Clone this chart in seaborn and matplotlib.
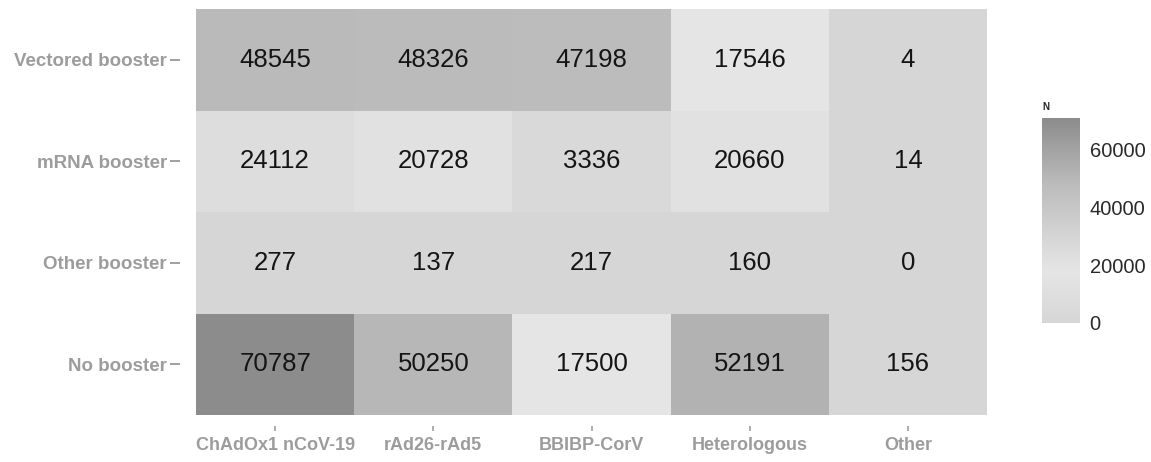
import numpy as np
import pandas as pd
import seaborn as sns
import matplotlib.pyplot as plt
from matplotlib.colors import LinearSegmentedColormap

vaccines = ["ChAdOx1 nCoV-19", "rAd26-rAd5", "BBIBP-CorV", "Heterologous", "Other"]
boosters = ["Vectored booster", "mRNA booster", "Other booster", "No booster"]

vectored = [48545, 48326, 47198, 17546, 4]
mrna = [24112, 20728, 3336, 20660, 14]
other_booster = [277, 137, 217, 160, 0]
no_booster = [70787, 50250, 17500, 52191, 156]

df = pd.DataFrame([vectored, mrna, other_booster, no_booster],
                  index=boosters, columns=vaccines)

sns.set_style("white")
plt.rcParams['font.family'] = ['Liberation Sans', 'DejaVu Sans']

# grey gradient, lightest around 17500 like the original
vmax = 70787
g = lambda v: (v / 255, v / 255, v / 255)
cmap = LinearSegmentedColormap.from_list("greys_mid", [
    (0.0, g(214)), (0.248, g(229)), (0.341, g(221)),
    (0.68, g(187)), (0.72, g(181)), (1.0, g(140))])

W, H = 1151, 462
fig = plt.figure(figsize=(W / 100, H / 100), dpi=100)
ax = fig.add_axes([196 / W, 1 - 415 / H, (987 - 196) / W, (415 - 9) / H])
cax = fig.add_axes([1042 / W, 1 - 323 / H, 38 / W, 205 / H])

sns.heatmap(df, ax=ax, cbar_ax=cax, cmap=cmap, vmin=0, vmax=vmax,
            annot=True, fmt="d", linewidths=0,
            annot_kws={"size": 18.5, "color": "#151515"},
            cbar_kws={"ticks": [0, 20000, 40000, 60000]})

tick_grey = "#a0a0a0"
ax.spines['left'].set_position(('outward', 11.5))
ax.spines['bottom'].set_position(('outward', 8))
ax.tick_params(axis='y', left=True, length=7, width=1.4, color=tick_grey,
               pad=2.5, labelsize=13.5, labelcolor="#9c9c9c", rotation=0)
ax.tick_params(axis='x', bottom=True, length=3.6, width=1.2, color=tick_grey,
               pad=4, labelsize=13, labelcolor="#9c9c9c", rotation=0)
for lab in ax.get_xticklabels() + ax.get_yticklabels():
    lab.set_fontweight('bold')

cb = ax.collections[0].colorbar
cb.outline.set_visible(False)
cax.tick_params(axis='y', direction='in', left=True, right=True, length=6,
                width=1, color='white', labelsize=14.5, labelcolor='#2a2a2a', pad=7)
cax.set_title("N", fontsize=7, fontweight='bold', loc='left', pad=6)

fig.savefig("out.png", dpi=100)
